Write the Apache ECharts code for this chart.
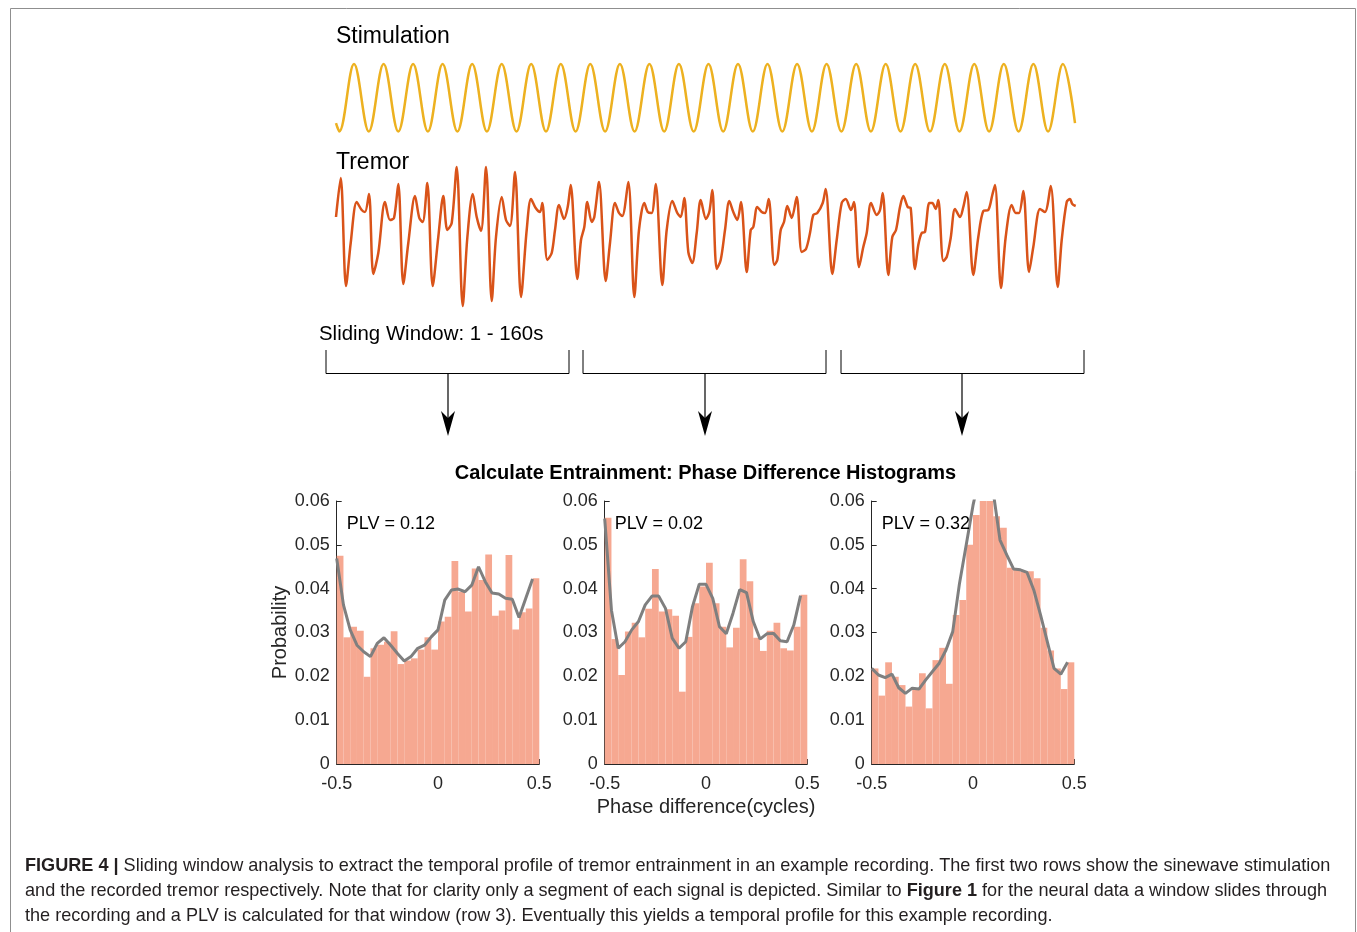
<!DOCTYPE html>
<html>
<head>
<meta charset="utf-8">
<script src="https://cdn.jsdelivr.net/npm/echarts@6/dist/echarts.min.js"></script>
<style>html,body{margin:0;padding:0;background:#fff}#main{width:1357px;height:932px}</style>
</head>
<body>
<div id="main"></div>
<script>
// stimulation: turning points of the sine (time in sample units, value normalised)
const stimTime = [0, 3.3, 18.0, 32.8, 47.6, 62.3, 77.1, 91.9, 106.6, 121.4, 136.2, 150.9, 165.7, 180.5, 195.2,
  210.0, 224.8, 239.6, 254.3, 269.1, 283.9, 298.6, 313.4, 328.2, 342.9, 357.7, 372.5, 387.2, 402.0, 416.8,
  431.5, 446.3, 461.1, 475.9, 490.6, 505.4, 520.2, 534.9, 549.7, 564.5, 579.2, 594.0, 608.8, 623.5, 638.3,
  653.1, 667.8, 682.6, 697.4, 712.1, 726.9, 739];
const stimValue = [-0.75, -1, 1, -1, 1, -1, 1, -1, 1, -1, 1, -1, 1, -1, 1, -1, 1, -1, 1, -1, 1, -1, 1, -1, 1, -1,
  1, -1, 1, -1, 1, -1, 1, -1, 1, -1, 1, -1, 1, -1, 1, -1, 1, -1, 1, -1, 1, -1, 1, -1, 1, -0.75];

// tremor trace
const tremorTime = [0, 4.7, 10, 14.7, 20.7, 25.7, 29, 33, 37.3, 42.3, 49, 54, 58, 62.3, 67.3, 72.3, 79, 83.3, 86.7,
  91.3, 96.7, 102.3, 107.3, 111.3, 115.7, 120.7, 126.7, 131.3, 136.7, 140.7, 145, 150, 155.7, 160, 165.7, 170,
  174, 179, 185, 190.7, 195, 199.7, 204, 206.3, 211.3, 215.7, 219, 223, 228, 231.7, 234.7, 241.3, 245, 248.3,
  251.3, 255.7, 258.3, 263, 269.7, 274, 279, 283, 286.3, 292.3, 298.3, 303, 308.3, 311.7, 315.7, 319.7, 326.3,
  330.7, 336.3, 341.3, 344.7, 348.3, 352.3, 356.3, 360.7, 364.7, 370, 373.3, 376.3, 380.7, 384.7, 389, 393.3,
  397.3, 401.3, 405, 410.7, 414.7, 417.3, 421.3, 425.7, 429, 432.7, 438.3, 441.3, 444.7, 448, 451.3, 455.7,
  460.7, 465.7, 470, 474, 477.3, 481.3, 486.7, 489.7, 496.3, 500.7, 505.7, 509.7, 515, 518, 523, 527.3, 530.7,
  535, 540.7, 544, 546.7, 552.3, 556.3, 560, 564, 567.3, 571.7, 574.7, 579, 582.3, 585.7, 589, 593.3, 596.3,
  599.7, 602.3, 607.3, 610.7, 614.7, 619, 624, 627.3, 630.7, 637.3, 642.3, 647.3, 652.3, 656.3, 659, 665,
  669.7, 675.7, 679.7, 683, 687.3, 693, 697.3, 704, 709, 714.7, 721.7, 725.7, 730.7, 734, 736.3, 739.7];
const tremorValue = [23, 62, -46, -3, 38, 30, 28, 46, -34, -13, 38, 20, 22, 56, -44, -3, 44, 22, 18,
  57, -46, 3, 44, 10, 17, 73, -66, 2, 46, 23, 9, 73, -61, 3, 43, 20,
  14, 68, -57, 10, 41, 32, 28, 37, -20, -13, 10, 35, 21, 33, 55, -39, 0, 13,
  38, 18, 23, 58, -41, -3, 37, 27, 24, 58, -57, 10, 37, 28, 27, 56, -45,
  10, 39, 27, 23, 42, -12, -23, 7, 40, 21, 28, 50, -29, -20, 10, 39,
  28, 20, 38, -32, 10, 13, 33, 28, 27, 41, -25, -20, 10, 18, 34, 22,
  43, -12, -9, 7, 25, 27, 37, 51, -34, 0, 37, 41, 30, 38, -27, -7, 7,
  37, 25, 30, 47, -35, 3, 10, 33, 44, 33, 32, -29, -5, 7, 8, 37, 37,
  31, 40, -21, -17, 2, 31, 23, 33, 48, -35, 3, 29, 30, 45, 55, -48,
  3, 35, 27, 27, 49, -32, -7, 31, 28, 54, -47, 0, 38, 41, 36, 34];

// phase difference histograms (30 bins from -0.5 to 0.5 cycles)
const binCount = 30;
const binLabels = Array.from({length: binCount}, (_, i) => 'b' + i);
const hist1 = [0.0475, 0.0289, 0.0313, 0.0304, 0.0199, 0.0264, 0.0272, 0.0279, 0.0303, 0.0228, 0.0236, 0.0241,
  0.0261, 0.0289, 0.0261, 0.0325, 0.0336, 0.0463, 0.0393, 0.0348, 0.0446, 0.0420, 0.0478, 0.0338, 0.0350,
  0.0477, 0.0307, 0.0346, 0.0355, 0.0424];
const smooth1 = [0.0469, 0.0363, 0.0306, 0.0271, 0.0256, 0.0245, 0.0275, 0.0288, 0.0271, 0.0252, 0.0235, 0.0245,
  0.0264, 0.0271, 0.0290, 0.0306, 0.0374, 0.0397, 0.0399, 0.0393, 0.0408, 0.0450, 0.0416, 0.0390, 0.0388,
  0.0378, 0.0376, 0.0334, 0.0378, 0.0422];
const hist2 = [0.0562, 0.0285, 0.0203, 0.0302, 0.0322, 0.0289, 0.0354, 0.0445, 0.0348, 0.0353, 0.0338, 0.0165,
  0.0290, 0.0367, 0.0405, 0.0459, 0.0367, 0.0313, 0.0266, 0.0311, 0.0467, 0.0417, 0.0288, 0.0258, 0.0304,
  0.0322, 0.0264, 0.0259, 0.0313, 0.0386];
const smooth2 = [0.0560, 0.0351, 0.0264, 0.0279, 0.0306, 0.0325, 0.0363, 0.0383, 0.0383, 0.0355, 0.0287, 0.0264,
  0.0279, 0.0359, 0.0410, 0.0410, 0.0378, 0.0313, 0.0297, 0.0344, 0.0398, 0.0391, 0.0325, 0.0285, 0.0297,
  0.0298, 0.0281, 0.0279, 0.0317, 0.0384];
const hist3 = [0.0218, 0.0156, 0.0232, 0.0199, 0.0180, 0.0131, 0.0173, 0.0207, 0.0127, 0.0237, 0.0265, 0.0183,
  0.0340, 0.0374, 0.0500, 0.0568, 0.0610, 0.0610, 0.0565, 0.0539, 0.0448, 0.0443, 0.0439, 0.0440, 0.0424,
  0.0311, 0.0259, 0.0218, 0.0171, 0.0232];
const smooth3 = [0.0218, 0.0203, 0.0197, 0.0205, 0.0174, 0.0161, 0.0173, 0.0171, 0.0192, 0.0211, 0.0230, 0.0260,
  0.0302, 0.0412, 0.0500, 0.0590, 0.0660, 0.0670, 0.0620, 0.0511, 0.0477, 0.0445, 0.0443, 0.0437, 0.0397,
  0.0340, 0.0279, 0.0218, 0.0205, 0.0232];
const plvLabels = ['PLV = 0.12', 'PLV = 0.02', 'PLV = 0.32'];

const captionLines = [
  '{b|FIGURE 4 |} Sliding window analysis to extract the temporal profile of tremor entrainment in an example recording. The first two rows show the sinewave stimulation',
  'and the recorded tremor respectively. Note that for clarity only a segment of each signal is depicted. Similar to {b|Figure 1} for the neural data a window slides through',
  'the recording and a PLV is calculated for that window (row 3). Eventually this yields a temporal profile for this example recording.'
];

const FONT = '"Liberation Sans", Arial, Helvetica, sans-serif';
const AXIS_COLOR = '#262626';
const histData = [hist1, hist2, hist3];
const lineData = [smooth1, smooth2, smooth3];
const panelLeft = [336.7, 604.7, 871.7];

const myChart = echarts.init(document.getElementById('main'));

const grids = [
  {left: 336, top: 57.25, width: 740, height: 81},
  {left: 336, top: 165, width: 740, height: 145}
];
const xAxes = [
  {gridIndex: 0, type: 'value', min: 0, max: 740, show: false},
  {gridIndex: 1, type: 'value', min: 0, max: 740, show: false}
];
const yAxes = [
  {gridIndex: 0, type: 'value', min: -1.2, max: 1.2, show: false},
  {gridIndex: 1, type: 'value', min: -70, max: 75, show: false}
];
const series = [
  {
    type: 'line', xAxisIndex: 0, yAxisIndex: 0, smooth: 0.36, symbol: 'none',
    lineStyle: {color: '#EDB120', width: 2.5},
    data: stimTime.map((t, i) => [t, stimValue[i]])
  },
  {
    type: 'line', xAxisIndex: 1, yAxisIndex: 1, smooth: 0.3, symbol: 'none',
    lineStyle: {color: '#D95319', width: 2.5},
    data: tremorTime.map((t, i) => [t, tremorValue[i]])
  }
];

for (let k = 0; k < 3; k++) {
  grids.push({left: panelLeft[k], top: 501, width: 202.6, height: 263});
  xAxes.push({
    gridIndex: 2 + k, type: 'value', min: -0.5, max: 0.5, interval: 0.5,
    axisLine: {show: true, onZero: false, lineStyle: {color: AXIS_COLOR, width: 1}},
    axisTick: {show: true, inside: true, length: 5, lineStyle: {color: AXIS_COLOR}},
    axisLabel: {
      show: true, margin: 11, color: AXIS_COLOR, fontSize: 18, fontFamily: FONT,
      showMinLabel: true, showMaxLabel: true,
      formatter: v => v === 0 ? '0' : String(v)
    },
    splitLine: {show: false},
    name: k === 1 ? 'Phase difference(cycles)' : '',
    nameLocation: 'middle', nameGap: 33,
    nameTextStyle: {color: AXIS_COLOR, fontSize: 20, fontFamily: FONT}
  });
  yAxes.push({
    gridIndex: 2 + k, type: 'value', min: 0, max: 0.06, interval: 0.01,
    axisLine: {show: true, onZero: false, lineStyle: {color: AXIS_COLOR, width: 1}},
    axisTick: {show: true, inside: true, length: 5, lineStyle: {color: AXIS_COLOR}},
    axisLabel: {
      show: true, margin: 7, color: AXIS_COLOR, fontSize: 18, fontFamily: FONT,
      formatter: v => v === 0 ? '0' : v.toFixed(2)
    },
    splitLine: {show: false},
    name: k === 0 ? 'Probability' : '',
    nameLocation: 'middle', nameGap: 46, nameRotate: 90,
    nameTextStyle: {color: AXIS_COLOR, fontSize: 20, fontFamily: FONT}
  });
}
// hidden category axes carrying the histogram bins
for (let k = 0; k < 3; k++) {
  xAxes.push({gridIndex: 2 + k, type: 'category', data: binLabels, boundaryGap: true, show: false});
}
const binStart = binLabels.map((_, i) => -0.5 + i / binCount);
for (let k = 0; k < 3; k++) {
  series.push({
    type: 'bar', xAxisIndex: 5 + k, yAxisIndex: 2 + k, barCategoryGap: '0%', barGap: '0%',
    itemStyle: {color: '#F6A891'}, data: histData[k], z: 1
  });
  series.push({
    type: 'line', xAxisIndex: 2 + k, yAxisIndex: 2 + k, symbol: 'none', clip: true, z: 3,
    lineStyle: {color: '#7F7F7F', width: 3},
    data: binStart.map((p, i) => [p, lineData[k][i]])
  });
}

const graphics = [
  {type: 'rect', shape: {x: 10.5, y: 8.5, width: 1345, height: 960}, style: {fill: 'none', stroke: '#8f8f8f', lineWidth: 1}, silent: true},
  {type: 'text', style: {x: 336, y: 37, text: 'Stimulation', font: '23px ' + FONT, fill: '#000', verticalAlign: 'middle'}},
  {type: 'text', style: {x: 336, y: 163, text: 'Tremor', font: '23px ' + FONT, fill: '#000', verticalAlign: 'middle'}},
  {type: 'text', style: {x: 319, y: 334, text: 'Sliding Window: 1 - 160s', font: '20.4px ' + FONT, fill: '#000', verticalAlign: 'middle'}},
  {type: 'text', style: {x: 705.5, y: 473, text: 'Calculate Entrainment: Phase Difference Histograms', font: 'bold 20px ' + FONT, fill: '#000', align: 'center', verticalAlign: 'middle'}}
];
const brackets = [[326, 569, 448], [583, 826, 705], [841, 1084, 962]];
brackets.forEach(b => {
  graphics.push({type: 'polyline', shape: {points: [[b[0], 350], [b[0], 373.5], [b[1], 373.5], [b[1], 350]]}, style: {stroke: '#000', lineWidth: 1, fill: 'none'}});
  graphics.push({type: 'line', shape: {x1: b[2], y1: 373.5, x2: b[2], y2: 420}, style: {stroke: '#000', lineWidth: 1.2}});
  graphics.push({type: 'polygon', shape: {points: [[b[2], 436], [b[2] - 7, 411], [b[2], 418], [b[2] + 7, 411]]}, style: {fill: '#000'}});
});
plvLabels.forEach((t, k) => {
  graphics.push({type: 'text', z: 10, style: {x: panelLeft[k] + 10, y: 524, text: t, font: '18px ' + FONT, fill: '#000', verticalAlign: 'middle'}});
});
captionLines.forEach((t, i) => {
  graphics.push({
    type: 'text',
    style: {
      x: 25, y: 866 + i * 25, text: t, font: '18.1px ' + FONT, fill: '#231F20', verticalAlign: 'middle',
      rich: {b: {fontWeight: 'bold', fontSize: 18.1, fontFamily: FONT, fill: '#231F20'}}
    }
  });
});

myChart.setOption({
  animation: false,
  grid: grids,
  xAxis: xAxes,
  yAxis: yAxes,
  series: series,
  graphic: graphics
});
</script>
</body>
</html>
